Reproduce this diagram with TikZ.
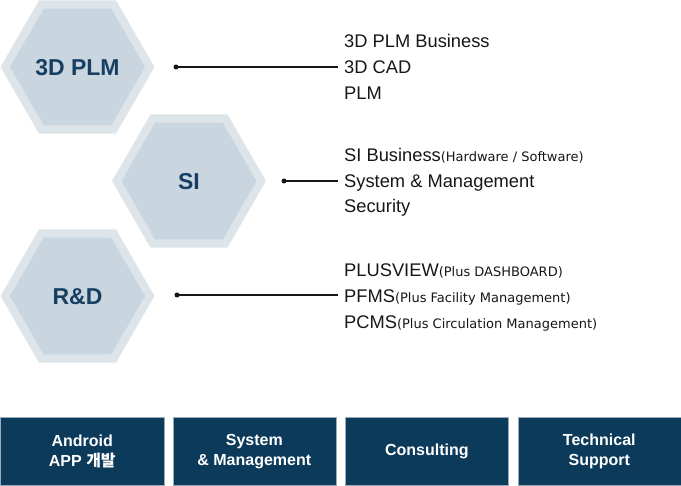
\documentclass[tikz,border=0pt]{standalone}
\usepackage{fontspec}
\setmainfont{Liberation Sans}
\newfontfamily\notefont{DejaVu Sans}
\newfontfamily\krfont{Noto Sans CJK KR}
\usetikzlibrary{calc}
\definecolor{hexouter}{HTML}{DDE5EA}
\definecolor{hexinner}{HTML}{C9D6E0}
\definecolor{navy}{HTML}{183F61}
\definecolor{boxfill}{HTML}{0C3A5A}
\definecolor{boxedge}{HTML}{9AAAB8}
\definecolor{ink}{HTML}{161616}
\newcommand\aside[1]{{\notefont\fontsize{13}{13}\selectfont #1}}

\begin{document}
\begin{tikzpicture}[x=1pt,y=-1pt,
  hexa/.pic={
    \fill[hexouter] (0:77) -- (60:77) -- (120:77) -- (180:77) -- (240:77) -- (300:77) -- cycle;
    \fill[hexinner] (0:67.5) -- (60:67.5) -- (120:67.5) -- (180:67.5) -- (240:67.5) -- (300:67.5) -- cycle;
  },
  hexlabel/.style={font=\fontsize{23}{23}\selectfont\bfseries, text=navy, inner sep=0pt},
  item/.style={anchor=base west, inner sep=0pt, font=\fontsize{18.3}{18.3}\selectfont, text=ink},
  conn/.style={draw=ink, line width=1.2pt, shorten >=6pt},
  dot/.style={circle, fill=ink, inner sep=0pt, minimum size=5pt},
  tile/.style={fill=boxfill, draw=boxedge, line width=0.6pt, minimum width=163pt,
    minimum height=68pt, text=white, align=center,
    font=\fontsize{16}{20}\selectfont\bfseries, anchor=north west, inner sep=0pt}
]
\useasboundingbox (0,0) rectangle (681,486);

% hexagons with their titles
\pic at (77.5,67) {hexa};
\pic at (189,181) {hexa};
\pic at (77.5,296) {hexa};
\node[hexlabel] (plm) at (77.5,67.5) {3D PLM};
\node[hexlabel] (si) at (189,181.5) {SI};
\node[hexlabel] (rnd) at (77.5,296.5) {R\&D};

% business lines
\node[item] (plmA) at (344,47.5) {3D PLM Business};
\node[item] (plmB) at (344,73.5) {3D CAD};
\node[item] (plmC) at (344,99.5) {PLM};

\node[item] (siA) at (344,162) {SI Business\aside{(Hardware / Software)}};
\node[item] (siB) at (344,187.5) {System \& Management};
\node[item] (siC) at (344,213) {Security};

\node[item] (rdA) at (344,276.5) {PLUSVIEW\aside{(Plus DASHBOARD)}};
\node[item] (rdB) at (344,302.5) {PFMS\aside{(Plus Facility Management)}};
\node[item] (rdC) at (344,328.5) {PCMS\aside{(Plus Circulation Management)}};

% connectors
\node[dot] (d1) at (176,67) {};
\node[dot] (d2) at (284,181) {};
\node[dot] (d3) at (177,295) {};
\draw[conn] (d1.center) -- (d1 -| plmB.west);
\draw[conn] (d2.center) -- (d2 -| siB.west);
\draw[conn] (d3.center) -- (d3 -| rdB.west);

% service tiles
\node[tile] (t1) at (0.5,417) {Android\\APP {\krfont 개발}};
\node[tile] (t2) at (172.5,417) {System\\\& Management};
\node[tile] (t3) at (345,417) {Consulting};
\node[tile] (t4) at (517.5,417) {Technical\\Support};
\end{tikzpicture}
\end{document}
